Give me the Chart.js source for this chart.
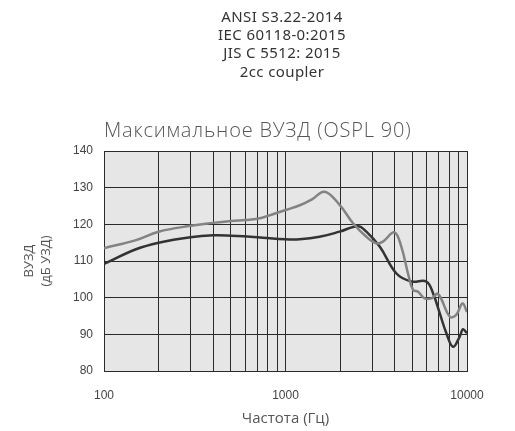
<!DOCTYPE html>
<html>
<head>
<meta charset="utf-8">
<script src="https://cdn.jsdelivr.net/npm/chart.js@4.4.1/dist/chart.umd.min.js"></script>
<style>
  html, body { margin: 0; padding: 0; background: #fff; }
  #wrap { width: 515px; height: 431px; position: relative; }
</style>
</head>
<body>
<div id="wrap"><canvas id="osplChart" width="515" height="431"></canvas></div>
<script>
const headerLines = ["ANSI S3.22-2014", "IEC 60118-0:2015", "JIS C 5512: 2015", "2cc coupler"];
const plotTitle = "Максимальное ВУЗД (OSPL 90)";

// серая кривая
const grayFreq = [100, 150, 200, 300, 400, 500, 600, 700, 800, 1000, 1200, 1400, 1644, 1987, 2355, 2790, 3160, 3440, 3980, 4345, 4730, 5044, 5375, 5845, 6365, 6925, 8040, 8720, 9440, 10000];
const grayVals = [113.5, 115.7, 118, 119.6, 120.4, 120.9, 121.2, 121.5, 122.3, 123.9, 125.2, 126.8, 128.9, 125.3, 120.3, 116.6, 114.8, 115.3, 117.8, 113.9, 106.6, 102.1, 101.6, 99.8, 99.8, 101, 94.8, 95.3, 98.4, 96.1];

// чёрная кривая
const blackFreq = [100, 150, 200, 300, 400, 500, 700, 1000, 1197, 1540, 1987, 2510, 2790, 3310, 4085, 4940, 5970, 6500, 7080, 7700, 8370, 9120, 9500, 10000];
const blackVals = [109.2, 113.2, 115, 116.5, 117, 116.9, 116.5, 115.9, 115.9, 116.6, 118, 119.5, 118, 113.9, 106.6, 104.4, 104.4, 101.2, 95.7, 90.3, 86.6, 89.4, 91.4, 90.3];

const xGridValues = [100, 200, 300, 400, 500, 600, 700, 800, 900, 1000, 2000, 3000, 4000, 5000, 6000, 7000, 8000, 9000, 10000];
const xLabels = [100, 1000, 10000];

const plotBg = {
  id: "plotBg",
  beforeDraw(chart) {
    const { ctx, chartArea: a } = chart;
    ctx.save();
    ctx.fillStyle = "#e6e6e7";
    ctx.fillRect(a.left, a.top, a.right - a.left, a.bottom - a.top);
    ctx.restore();
  },
  afterDraw(chart) {
    const { ctx, chartArea: a } = chart;
    ctx.save();
    ctx.fillStyle = "#333";
    ctx.textAlign = "center";
    ctx.textBaseline = "alphabetic";
    ctx.font = "15px 'Noto Sans'";
    ctx.letterSpacing = "0.4px";
    headerLines.forEach((t, i) => ctx.fillText(t, 282, 21.5 + i * 18.4));
    ctx.fillStyle = "#555";
    ctx.textAlign = "left";
    ctx.font = "300 20px 'Open Sans'";
    ctx.letterSpacing = "0.8px";
    ctx.fillText(plotTitle, a.left, 137);
    ctx.restore();
  }
};

const ctx = document.getElementById("osplChart").getContext("2d");
const osplChart = new Chart(ctx, {
  type: "line",
  data: {
    datasets: [
      {
        label: "gray",
        data: grayFreq.map((f, i) => ({ x: f, y: grayVals[i] })),
        borderColor: "#838383",
        borderWidth: 2.5,
        pointRadius: 0,
        tension: 0.4,
      },
      {
        label: "black",
        data: blackFreq.map((f, i) => ({ x: f, y: blackVals[i] })),
        borderColor: "#333",
        borderWidth: 2.5,
        pointRadius: 0,
        tension: 0.4,
      },
    ],
  },
  options: {
    responsive: false,
    animation: false,
    layout: { padding: { top: 151, right: 48, left: 0, bottom: 0 } },
    scales: {
      x: {
        type: "logarithmic",
        min: 100,
        max: 10000,
        afterBuildTicks: (scale) => {
          scale.ticks = xGridValues.map((v) => ({ value: v }));
        },
        afterFit: (scale) => { scale.height = 60; },
        grid: { color: "#2a2a2a", lineWidth: 1, drawTicks: false },
        border: { color: "#2a2a2a" },
        ticks: {
          autoSkip: false,
          maxRotation: 0,
          padding: 17,
          color: "#444",
          font: { family: "'Liberation Sans'", size: 12 },
          callback: (v) => (xLabels.includes(v) ? String(v) : ""),
        },
        title: {
          display: true,
          text: "Частота (Гц)",
          color: "#555",
          font: { family: "'Open Sans'", size: 15 },
          padding: { top: 0, bottom: 3 },
        },
      },
      y: {
        min: 80,
        max: 140,
        afterFit: (scale) => { scale.width = 104; },
        grid: { color: "#2a2a2a", lineWidth: 1, drawTicks: false },
        border: { color: "#2a2a2a" },
        ticks: {
          stepSize: 10,
          padding: 11,
          color: "#444",
          font: { family: "'Liberation Sans'", size: 12 },
        },
        title: {
          display: true,
          text: ["ВУЗД", "(дБ УЗД)"],
          color: "#555",
          font: { family: "'Open Sans'", size: 13, lineHeight: 1.3 },
          padding: { top: 21, bottom: 0 },
        },
      },
    },
    plugins: {
      legend: { display: false },
      tooltip: { enabled: false },
    },
  },
  plugins: [plotBg],
});
</script>
</body>
</html>
